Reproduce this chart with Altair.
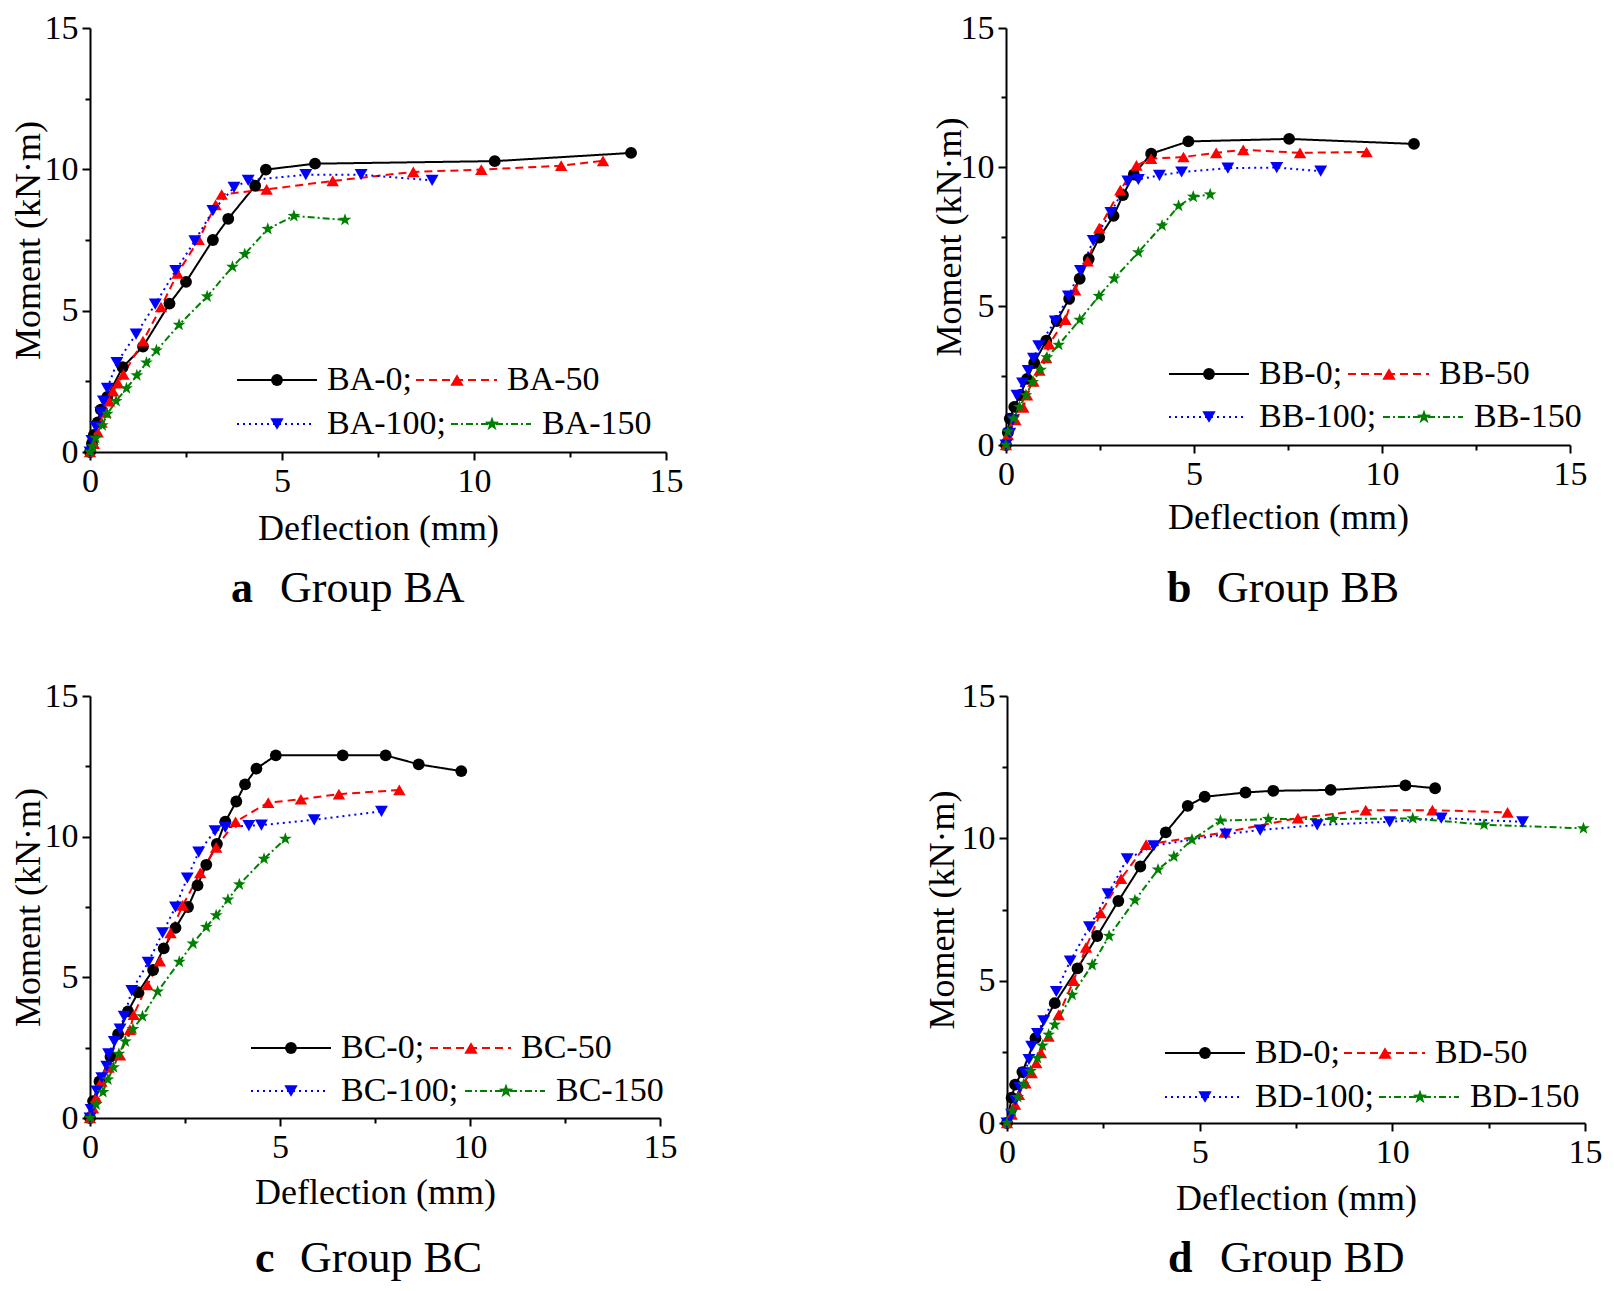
import altair as alt
import pandas as pd

# ---------------- data ----------------
BA0_X = [0, 0.05, 0.1, 0.2, 0.28, 0.45, 0.85, 1.38, 2.07, 2.5, 3.2, 3.6, 4.3, 4.58, 5.86, 10.54, 14.09]
BA0_Y = [0, 0.3, 0.6, 1.05, 1.5, 1.95, 3.0, 3.73, 5.25, 6.02, 7.5, 8.25, 9.42, 9.99, 10.2, 10.29, 10.58]
BA50_X = [0, 0.1, 0.2, 0.3, 0.4, 0.5, 0.6, 0.73, 0.87, 1.38, 1.85, 2.28, 2.83, 3.27, 3.43, 4.6, 6.32, 8.42, 10.19, 12.27, 13.36]
BA50_Y = [0, 0.3, 0.7, 1.05, 1.4, 1.8, 2.15, 2.44, 2.75, 3.92, 5.13, 6.32, 7.51, 8.74, 9.11, 9.29, 9.59, 9.91, 9.99, 10.13, 10.3]
BA100_X = [0, 0.05, 0.15, 0.28, 0.35, 0.45, 0.7, 1.2, 1.7, 2.23, 2.73, 3.2, 3.75, 4.12, 5.62, 7.06, 8.91]
BA100_Y = [0, 0.4, 0.9, 1.4, 1.8, 2.25, 3.16, 4.17, 5.23, 6.42, 7.47, 8.54, 9.36, 9.61, 9.81, 9.81, 9.61]
BA150_X = [0, 0.07, 0.15, 0.32, 0.45, 0.68, 0.95, 1.22, 1.47, 1.73, 2.32, 3.05, 3.71, 4.03, 4.63, 5.31, 6.64]
BA150_Y = [0, 0.2, 0.49, 0.94, 1.35, 1.8, 2.25, 2.71, 3.16, 3.59, 4.5, 5.5, 6.55, 7.0, 7.89, 8.35, 8.21]

BB0_X = [0, 0.05, 0.1, 0.22, 0.38, 0.56, 0.75, 1.07, 1.35, 1.68, 1.96, 2.2, 2.48, 2.86, 3.11, 3.4, 3.86, 4.85, 7.53, 10.85]
BB0_Y = [0, 0.45, 0.95, 1.37, 1.8, 2.38, 2.95, 3.75, 4.46, 5.26, 5.98, 6.69, 7.46, 8.24, 8.99, 9.73, 10.48, 10.92, 11.01, 10.83]
BB50_X = [0, 0.05, 0.25, 0.46, 0.56, 0.73, 0.89, 1.07, 1.15, 1.58, 1.84, 2.17, 2.48, 3.04, 3.47, 3.86, 4.72, 5.59, 6.31, 7.82, 9.59]
BB50_Y = [0, 0.36, 0.9, 1.35, 1.79, 2.29, 2.68, 3.13, 3.63, 4.51, 5.57, 6.61, 7.8, 9.17, 10.06, 10.3, 10.36, 10.51, 10.62, 10.51, 10.54]
BB100_X = [0, 0.1, 0.18, 0.29, 0.44, 0.59, 0.73, 0.87, 1.31, 1.66, 1.98, 2.32, 2.79, 3.24, 3.52, 4.08, 4.67, 5.9, 7.2, 8.37]
BB100_Y = [0, 0.42, 0.9, 1.79, 2.23, 2.68, 3.12, 3.57, 4.46, 5.36, 6.27, 7.35, 8.36, 9.49, 9.55, 9.7, 9.82, 9.96, 9.98, 9.85]
BB150_X = [0, 0.05, 0.2, 0.36, 0.53, 0.71, 0.92, 1.09, 1.4, 1.96, 2.47, 2.88, 3.52, 4.15, 4.59, 4.98, 5.43]
BB150_Y = [0, 0.48, 0.95, 1.37, 1.79, 2.26, 2.7, 3.15, 3.6, 4.5, 5.36, 5.99, 6.93, 7.89, 8.6, 8.93, 9.01]

BC0_X = [0, 0.08, 0.25, 0.54, 0.74, 1.0, 1.27, 1.66, 1.94, 2.25, 2.58, 2.83, 3.06, 3.34, 3.56, 3.85, 4.08, 4.38, 4.89, 6.65, 7.78, 8.65, 9.77]
BC0_Y = [0, 0.6, 1.3, 2.18, 2.98, 3.79, 4.47, 5.26, 6.03, 6.76, 7.5, 8.27, 9.0, 9.74, 10.53, 11.25, 11.86, 12.42, 12.89, 12.89, 12.89, 12.57, 12.33]
BC50_X = [0, 0.08, 0.16, 0.3, 0.49, 0.79, 1.05, 1.15, 1.51, 1.84, 2.12, 2.44, 2.9, 3.32, 3.83, 4.69, 5.55, 6.55, 8.14]
BC50_Y = [0, 0.35, 0.72, 1.3, 1.8, 2.23, 3.14, 3.67, 4.73, 5.58, 6.58, 7.56, 8.71, 9.62, 10.53, 11.21, 11.33, 11.51, 11.66]
BC100_X = [0, 0.03, 0.18, 0.31, 0.44, 0.49, 0.64, 0.79, 0.9, 1.1, 1.53, 1.91, 2.25, 2.56, 2.86, 3.29, 3.56, 4.18, 4.51, 5.9, 7.67]
BC100_Y = [0, 0.3, 0.96, 1.43, 1.84, 2.28, 2.72, 3.16, 3.61, 4.53, 5.53, 6.58, 7.5, 8.53, 9.45, 10.21, 10.33, 10.39, 10.41, 10.6, 10.9]
BC150_X = [0, 0.16, 0.34, 0.47, 0.62, 0.76, 0.93, 1.13, 1.38, 1.78, 2.35, 2.71, 3.06, 3.32, 3.63, 3.93, 4.58, 5.14]
BC150_Y = [0, 0.48, 0.92, 1.37, 1.8, 2.28, 2.72, 3.16, 3.61, 4.49, 5.55, 6.2, 6.79, 7.2, 7.76, 8.3, 9.21, 9.92]

BD0_X = [0, 0.12, 0.21, 0.4, 0.74, 1.24, 1.83, 2.34, 2.89, 3.46, 4.12, 4.69, 5.13, 6.19, 6.91, 8.4, 10.34, 11.11]
BD0_Y = [0, 0.89, 1.35, 1.79, 2.98, 4.21, 5.43, 6.57, 7.8, 9.01, 10.21, 11.14, 11.46, 11.61, 11.67, 11.7, 11.86, 11.76]
BD50_X = [0, 0.12, 0.21, 0.31, 0.48, 0.64, 0.76, 0.88, 1.08, 1.34, 1.73, 2.05, 2.43, 2.96, 3.61, 5.65, 7.55, 9.31, 11.04, 12.99]
BD50_Y = [0, 0.3, 0.65, 1.0, 1.4, 1.76, 2.11, 2.46, 3.04, 3.8, 5.0, 6.17, 7.38, 8.58, 9.78, 10.21, 10.71, 10.99, 10.99, 10.91]
BD100_X = [0, 0.12, 0.22, 0.33, 0.46, 0.57, 0.64, 0.79, 0.95, 1.28, 1.64, 2.14, 2.62, 3.12, 3.81, 5.68, 6.57, 8.05, 9.93, 11.27, 13.38]
BD100_Y = [0, 0.3, 0.8, 1.24, 1.76, 2.23, 2.69, 3.14, 3.59, 4.62, 5.69, 6.89, 8.05, 9.28, 9.74, 10.15, 10.29, 10.47, 10.58, 10.71, 10.58]
BD150_X = [0, 0.14, 0.28, 0.43, 0.61, 0.79, 0.92, 1.08, 1.24, 1.69, 2.21, 2.65, 3.32, 3.92, 4.33, 4.8, 5.54, 6.78, 8.46, 10.53, 12.38, 14.96]
BD150_Y = [0, 0.42, 0.91, 1.35, 1.82, 2.28, 2.72, 3.1, 3.45, 4.5, 5.55, 6.57, 7.82, 8.9, 9.36, 9.95, 10.62, 10.68, 10.68, 10.7, 10.48, 10.35]

KEYS = ["0", "50", "100", "150"]

# ---------------- styles ----------------
FONT = "Liberation Serif"
COLORS = ["#000000", "#ff0000", "#0000ff", "#008000"]
STAR = ("M0,-1L0.235,-0.324L0.951,-0.309L0.38,0.124L0.588,0.809L0,0.4"
        "L-0.588,0.809L-0.38,0.124L-0.951,-0.309L-0.235,-0.324Z")
SHAPES = ["circle", "triangle-up", "triangle-down", STAR]
SIZES = [140, 180, 180, 230]
DASHES = [[1, 0], [8, 5], [2, 4], [7, 3, 2, 3]]

cscale = alt.Scale(domain=KEYS, range=COLORS)
shscale = alt.Scale(domain=KEYS, range=SHAPES)
szscale = alt.Scale(domain=KEYS, range=SIZES)
dscale = alt.Scale(domain=KEYS, range=DASHES)

TICKS = [0, 2.5, 5, 7.5, 10, 12.5, 15]
TICKSIZE = {"condition": {"test": "datum.value % 5 === 0", "value": 8}, "value": 5}
LABEL_EXPR = "datum.value % 5 === 0 ? format(datum.value, 'd') : ''"


def panel(prefix, letter, xs, ys, w, h, ytx, xty, lx, ly, ldy, cap_l, cap_t, cap_dy):
    rows = []
    for k, xv, yv in zip(KEYS, xs, ys):
        for i, (a, b) in enumerate(zip(xv, yv)):
            rows.append({"x": a, "y": b, "s": k, "i": i})
    df = pd.DataFrame(rows)

    xaxis = alt.Axis(values=TICKS, labelExpr=LABEL_EXPR, tickSize=TICKSIZE,
                     title="Deflection (mm)", titleX=w / 2, titleY=xty,
                     titleBaseline="middle", grid=False)
    yaxis = alt.Axis(values=TICKS, labelExpr=LABEL_EXPR, tickSize=TICKSIZE,
                     title="Moment (kN·m)", titleX=ytx, titleY=h / 2,
                     titleBaseline="middle", titleAngle=-90, grid=False)
    X = alt.X("x:Q", scale=alt.Scale(domain=[0, 15], nice=False), axis=xaxis)
    Y = alt.Y("y:Q", scale=alt.Scale(domain=[0, 15], nice=False), axis=yaxis)

    base = alt.Chart(df)
    lines = base.mark_line(strokeWidth=2).encode(
        x=X, y=Y,
        color=alt.Color("s:N", scale=cscale, legend=None),
        strokeDash=alt.StrokeDash("s:N", scale=dscale, legend=None),
        order="i:Q",
    )
    pts = base.mark_point(filled=True, opacity=1).encode(
        x=X, y=Y,
        color=alt.Color("s:N", scale=cscale, legend=None),
        shape=alt.Shape("s:N", scale=shscale, legend=None),
        size=alt.Size("s:O", scale=szscale, legend=None),
    )
    layers = [lines, pts]

    # legend: two rows, each flowing "line+marker  label" pairs
    entries = [
        (0, lx, lx + 80, lx + 40, lx + 90, f"{prefix}-0;"),
        (1, lx + 179, lx + 260, lx + 220, lx + 270, f"{prefix}-50"),
        (2, lx, lx + 76, lx + 40, lx + 90, f"{prefix}-100;"),
        (3, lx + 214, lx + 294, lx + 255, lx + 305, f"{prefix}-150"),
    ]
    one = pd.DataFrame({"d": [0]})
    for j, x0, x1, xm, xt, lab in entries:
        yy = ly if j < 2 else ly + ldy
        layers.append(alt.Chart(one).mark_rule(strokeWidth=2, strokeDash=DASHES[j], color=COLORS[j]).encode(
            x=alt.value(x0), x2=alt.value(x1), y=alt.value(yy)))
        layers.append(alt.Chart(one).mark_point(filled=True, opacity=1, shape=SHAPES[j],
                                                size=SIZES[j], color=COLORS[j]).encode(
            x=alt.value(xm), y=alt.value(yy)))
        layers.append(alt.Chart(pd.DataFrame({"t": [lab]})).mark_text(
            font=FONT, fontSize=34, align="left", baseline="middle", color="black").encode(
            text="t:N", x=alt.value(xt), y=alt.value(yy)))

    # caption
    layers.append(alt.Chart(pd.DataFrame({"t": [letter]})).mark_text(
        font=FONT, fontSize=44, fontWeight="bold", align="left", baseline="middle", color="black").encode(
        text="t:N", x=alt.value(cap_l), y=alt.value(h + cap_dy)))
    layers.append(alt.Chart(pd.DataFrame({"t": [f"Group {prefix}"]})).mark_text(
        font=FONT, fontSize=44, align="left", baseline="middle", color="black").encode(
        text="t:N", x=alt.value(cap_t), y=alt.value(h + cap_dy)))

    return alt.layer(*layers).properties(width=w, height=h)


pa = panel("BA", "a", [BA0_X, BA50_X, BA100_X, BA150_X], [BA0_Y, BA50_Y, BA100_Y, BA150_Y],
           576, 424, -62, 76, 147, 352, 44, 141, 190, 137)
pb = panel("BB", "b", [BB0_X, BB50_X, BB100_X, BB150_X], [BB0_Y, BB50_Y, BB100_Y, BB150_Y],
           564, 417, -57, 72, 163, 346, 43, 161, 211, 144)
pc = panel("BC", "c", [BC0_X, BC50_X, BC100_X, BC150_X], [BC0_Y, BC50_Y, BC100_Y, BC150_Y],
           570, 422, -62, 74, 161, 352, 43, 165, 210, 141)
pd_ = panel("BD", "d", [BD0_X, BD50_X, BD100_X, BD150_X], [BD0_Y, BD50_Y, BD100_Y, BD150_Y],
            578, 427, -65, 75, 158, 357, 44, 161, 213, 136)

row1 = alt.hconcat(pa, pb, spacing=248)
row2 = alt.hconcat(pc, pd_, spacing=247)

chart = alt.vconcat(row1, row2, spacing=68).properties(
    padding={"left": 2, "top": 3, "right": 0, "bottom": 0}
).configure(background="white").configure_view(stroke=None).configure_axis(
    labelFont=FONT, titleFont=FONT, labelFontSize=34, titleFontSize=36,
    titleFontWeight="normal", labelColor="black", titleColor="black",
    domainColor="black", domainWidth=2, tickColor="black", tickWidth=2,
    labelPadding=4, labelFlush=False, labelOverlap=False, grid=False,
)

chart.save("out.html", embed_options={"renderer": "svg", "actions": False})
